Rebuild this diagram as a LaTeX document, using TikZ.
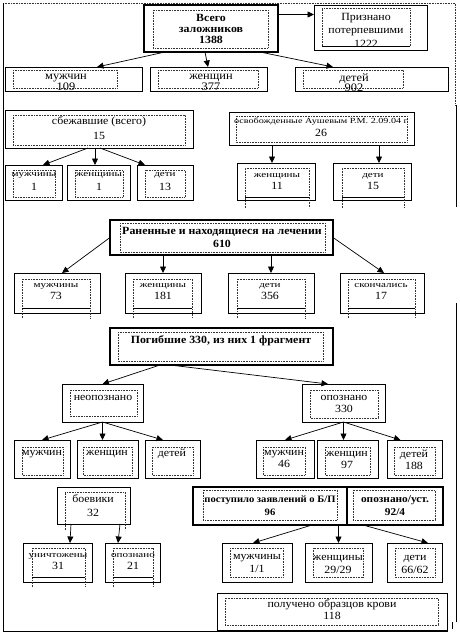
\documentclass[tikz,border=0pt]{standalone}
\usepackage{fontspec}
\setmainfont{Liberation Serif}[FakeStretch=1.08]
\newfontfamily\smallwide{Liberation Serif}[FakeStretch=1.3]
\newcommand\lbl[1]{{\smallwide\fontsize{8.5}{9}\selectfont #1}}
\usetikzlibrary{fit,arrows.meta}

\tikzset{
  box/.style={draw, line width=0.9pt, inner sep=0pt, outer sep=0pt},
  thickbox/.style={draw, line width=2.6pt, inner sep=0pt, outer sep=0pt},
  frame/.style={draw=black!80, line width=0.6pt, dash pattern=on 0.7pt off 0.9pt},
  cut/.style={draw, line width=0.6pt},
  txt/.style={align=center, inner sep=0pt, font=\fontsize{11}{12}\selectfont},
  boldtxt/.style={txt, font=\fontsize{11}{13}\selectfont\bfseries},
  arr/.style={-{Triangle[length=6.5pt,width=6pt]}, line width=0.7pt},
}

\begin{document}
\begin{tikzpicture}[x=1pt, y=-1pt]
\useasboundingbox (0,0) rectangle (459,635);

% page frame
\draw[frame] (3,3) -- (455,3) -- (455,105);
\draw[line width=0.9pt] (3,3) -- (3,631) -- (448,631);
\draw[line width=0.9pt] (456,105) -- (456,207);
\draw[line width=0.9pt] (456,303) -- (456,622);
\draw[line width=0.9pt] (452,622) -- (452,629);

% all hostages
\node[thickbox, fit={(144,5) (278,52)}] (total) {};
\draw[frame] (153,10) rectangle (268,48);
\node[boldtxt, font=\fontsize{11}{11}\selectfont\bfseries] at (211,28.5) {Всего\\заложников\\1388};

\node[box, fit={(314,5) (427,50)}] (victims) {};
\draw[frame] (322,46) |- (410,8) -- (410,46);
\draw[cut] (322,46) -- (410,46);
\node[txt, font=\fontsize{11}{13.5}\selectfont] at (366,30) {Признано\\потерпевшими\\1222};

\node[box, fit={(5,67) (142,91)}] (men) {};
\draw[frame] (13,70) rectangle (117,88);
\node[txt, font=\fontsize{11.5}{10}\selectfont] at (66,82.5) {мужчин\\109};

\node[box, fit={(150,67) (267,91)}] (women) {};
\draw[frame] (158,70) rectangle (258,88);
\node[txt, font=\fontsize{11.5}{10}\selectfont] at (211,82.5) {женщин\\377};

\node[box, fit={(295,67) (448,91)}] (kids) {};
\draw[frame] (303,70) rectangle (403,88);
\node[txt, font=\fontsize{11.5}{10}\selectfont] at (354,82.5) {детей\\902};

\draw[arr] ([yshift=14pt]total.east) -- ([yshift=13pt]victims.west);
\draw[arr] ([xshift=-46pt]total.south) -- ([xshift=23.5pt]men.north);
\draw[arr] ([xshift=-6pt]total.south) -- ([xshift=-0.5pt]women.north);
\draw[arr] ([xshift=49pt]total.south) -- ([xshift=-38.5pt]kids.north);

% escaped
\node[box, fit={(5,110) (193,148)}] (esc) {};
\draw[frame] (13,115) rectangle (185,145);
\node[txt, font=\fontsize{11}{14.5}\selectfont] at (99,128) {сбежавшие (всего)\\15};

\node[box, fit={(5,165) (62,200)}] (escM) {};
\draw[frame] (13,170) rectangle (55,197);
\node[txt, font=\fontsize{11}{14}\selectfont] at (34,181.5) {\lbl{мужчины}\\1};

\node[box, fit={(67,165) (130,200)}] (escW) {};
\draw[frame] (75,170) rectangle (123,197);
\node[txt, font=\fontsize{11}{14}\selectfont] at (99,181.5) {\lbl{женщины}\\1};

\node[box, fit={(137,165) (193,200)}] (escK) {};
\draw[frame] (145,170) rectangle (185,197);
\node[txt, font=\fontsize{11}{14}\selectfont] at (165,181.5) {\lbl{дети}\\13};

\draw[arr] ([xshift=-11pt]esc.south) -- ([xshift=9.5pt]escM.north);
\draw[arr] ([xshift=-4pt]esc.south) -- ([xshift=-3.5pt]escW.north);
\draw[arr] ([xshift=1pt]esc.south) -- ([xshift=-20pt]escK.north);

% released
\node[box, fit={(229,112) (414,145)}] (rel) {};
\draw[frame] (236,116) rectangle (407,142);
\node[txt, font=\fontsize{11}{13}\selectfont] at (321,127) {{\smallwide\fontsize{7.8}{9}\selectfont освобожденные Аушевым Р.М. 2.09.04 г}\\26};

\node[box, fit={(237,163) (315,200)}] (relW) {};
\draw[frame] (245,208) |- (309,168) -- (309,208);
\draw[cut] (245,197) -- (309,197);
\node[txt] at (277,181.5) {\lbl{женщины}\\11};

\node[box, fit={(333,163) (411,200)}] (relK) {};
\draw[frame] (342,208) |- (404,168) -- (404,208);
\draw[cut] (342,197) -- (404,197);
\node[txt] at (373,181.5) {\lbl{дети}\\15};

\draw[arr] ([xshift=-49.5pt]rel.south) -- ([xshift=-4pt]relW.north);
\draw[arr] ([xshift=57.5pt]rel.south) -- ([xshift=7pt]relK.north);

% wounded
\node[thickbox, fit={(110,220) (333,255)}] (wounded) {};
\draw[frame] (120,223) rectangle (325,252);
\node[boldtxt, font=\fontsize{11}{13}\selectfont\bfseries] at (222,237) {Раненные и находящиеся на лечении\\610};

\node[box, fit={(14,273) (100,313)}] (wM) {};
\draw[frame] (22,318) |- (90,279) -- (90,318);
\draw[cut] (22,308) -- (90,308);
\node[txt] at (56,291.5) {\lbl{мужчины}\\73};

\node[box, fit={(125,273) (201,313)}] (wW) {};
\draw[frame] (133,318) |- (192,279) -- (192,318);
\draw[cut] (133,308) -- (192,308);
\node[txt] at (163,291.5) {\lbl{женщины}\\181};

\node[box, fit={(228,273) (314,313)}] (wK) {};
\draw[frame] (237,318) |- (305,279) -- (305,318);
\draw[cut] (237,308) -- (305,308);
\node[txt] at (270,291.5) {\lbl{дети}\\356};

\node[box, fit={(340,273) (424,313)}] (wD) {};
\draw[frame] (348,318) |- (415,279) -- (415,318);
\draw[cut] (348,308) -- (415,308);
\node[txt] at (381,291.5) {\lbl{скончались}\\17};

\draw[arr] (wounded.west) -- ([xshift=5pt]wM.north);
\draw[arr] (wounded.south -| wW.north) -- (wW.north);
\draw[arr] (wounded.south -| wK.north) -- (wK.north);
\draw[arr] (wounded.east) -- ([xshift=2pt]wD.north);

% dead
\node[thickbox, fit={(110,328) (333,365)}] (dead) {};
\draw[frame] (118,332) rectangle (323,361);
\node[boldtxt] at (221,341) {Погибшие 330, из них 1 фрагмент};

\node[box, fit={(62,384) (143,422)}] (unid) {};
\draw[frame] (70,390) rectangle (137,416);
\node[txt] at (103,398) {неопознано};

\node[box, fit={(302,384) (385,422)}] (ident) {};
\draw[frame] (310,390) rectangle (378,418);
\node[txt] at (344,403.5) {опознано\\330};

\draw[arr] ([xshift=-61.5pt]dead.south) -- (unid.north);
\draw[arr] ([xshift=-51.5pt]dead.south) -- ([xshift=-15.5pt]ident.north);

% not identified
\node[box, fit={(14,440) (70,478)}] (uM) {};
\draw[frame] (22,447) rectangle (63,475);
\node[txt] at (42,454) {мужчин};

\node[box, fit={(77,440) (138,478)}] (uW) {};
\draw[frame] (83,447) rectangle (132,475);
\node[txt] at (107,454) {женщин};

\node[box, fit={(145,440) (200,478)}] (uK) {};
\draw[frame] (152,447) rectangle (193,475);
\node[txt] at (172,454) {детей};

\draw[arr] (unid.south) -- (uM.north);
\draw[arr] (unid.south) -- (unid.south |- uW.north);
\draw[arr] (unid.south) -- ([xshift=-9.5pt]uK.north);

% identified
\node[box, fit={(256,440) (314,478)}] (iM) {};
\draw[frame] (263,447) rectangle (305,475);
\node[txt] at (284,459.5) {мужчин\\46};

\node[box, fit={(317,440) (378,478)}] (iW) {};
\draw[frame] (325,447) rectangle (370,475);
\node[txt] at (347,459.5) {женщин\\97};

\node[box, fit={(387,440) (442,478)}] (iK) {};
\draw[frame] (394,447) rectangle (435,475);
\node[txt] at (414,459.5) {детей\\188};

\draw[arr] (ident.south) -- (iM.north);
\draw[arr] (ident.south) -- (ident.south |- iW.north);
\draw[arr] (ident.south) -- ([xshift=-14pt]iK.north);

% fighters
\node[box, fit={(57,487) (130,524)}] (fighters) {};
\draw[frame] (65,530) |- (125,492) -- (125,530);
\node[txt, font=\fontsize{11}{14}\selectfont] at (93,505.5) {боевики\\32};

\node[box, fit={(23,543) (92,582)}] (fKilled) {};
\draw[frame] (32,587) |- (85,548) -- (85,587);
\draw[cut] (32,577) -- (85,577);
\node[txt] at (58,561.5) {\lbl{уничтожены}\\31};

\node[box, fit={(105,543) (160,582)}] (fIdent) {};
\draw[frame] (113,587) |- (153,548) -- (153,587);
\draw[cut] (113,577) -- (153,577);
\node[txt] at (133,561.5) {\lbl{опознано}\\21};

\draw[arr] ([xshift=-22.5pt]fighters.south) -- ([xshift=12.5pt]fKilled.north);
\draw[arr] ([xshift=26.5pt]fighters.south) -- ([xshift=-14.5pt]fIdent.north);

% claims
\node[thickbox, fit={(193,487) (347,525)}] (claims) {};
\draw[frame] (203,490) rectangle (337,520);
\node[boldtxt, font=\fontsize{9.8}{13}\selectfont\bfseries] at (270,506) {поступило заявлений о Б/П\\96};

\node[thickbox, fit={(347,487) (443,525)}] (idset) {};
\draw[frame] (353,490) rectangle (435,520);
\node[boldtxt, font=\fontsize{10.5}{13}\selectfont\bfseries] at (395,506) {опознано/уст.\\92/4};

\node[box, fit={(222,543) (292,582)}] (cM) {};
\draw[frame] (230,548) rectangle (283,577);
\node[txt, font=\fontsize{11}{13}\selectfont] at (257,564) {мужчины\\1/1};

\node[box, fit={(305,543) (372,582)}] (cW) {};
\draw[frame] (313,548) rectangle (363,577);
\node[txt, font=\fontsize{11}{13}\selectfont] at (338,564) {женщины\\29/29};

\node[box, fit={(387,543) (442,582)}] (cK) {};
\draw[frame] (395,548) rectangle (435,577);
\node[txt, font=\fontsize{11}{13}\selectfont] at (415,564) {дети\\66/62};

\draw[arr] ([xshift=42pt]claims.south) -- ([xshift=-4pt]cM.north);
\draw[arr] (cW.north |- claims.south) -- (cW.north);
\draw[arr] ([xshift=-32pt]idset.south) -- ([xshift=13.5pt]cK.north);

% blood samples
\node[box, fit={(217,593) (447,630)}] (blood) {};
\draw[frame] (225,598) rectangle (438,625);
\node[txt] at (332,609.5) {получено образцов крови\\118};

\end{tikzpicture}
\end{document}
